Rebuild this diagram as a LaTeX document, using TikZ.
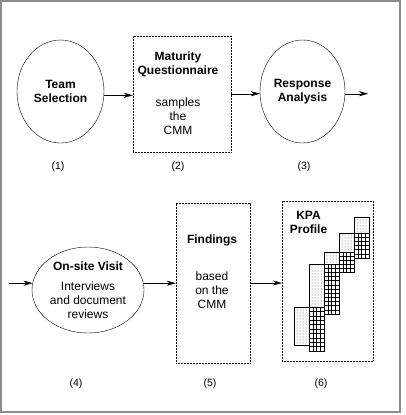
\documentclass[tikz,border=0pt]{standalone}
\usepackage{fontspec}
\setmainfont{Liberation Sans}
\usetikzlibrary{arrows.meta}
\usetikzlibrary{shapes.geometric}
\usetikzlibrary{patterns}

\begin{document}
\begin{tikzpicture}[x=1pt,y=-1pt,font=\fontsize{12}{14}\selectfont,
  stage/.style={ellipse,draw,thin,align=center,inner sep=0pt},
  sheet/.style={draw,dash pattern=on 0.6pt off 0.9pt,thin,inner sep=0pt},
  flow/.style={-{Stealth[length=9pt,width=5pt]},thin},
  tag/.style={font=\fontsize{10.5}{12}\selectfont}]
\useasboundingbox (0,0) rectangle (405,415);
\draw[black!45,line width=2pt] (1,1) rectangle (400,412);
\node[stage,minimum width=87,minimum height=103] (team) at (60.5,91.5) {\textbf{Team}\\\textbf{Selection}};
\node[sheet,minimum width=98,minimum height=116] (quest) at (182,94) {};
\node[align=center] (questtxt) at (178,93) {\textbf{Maturity}\\\textbf{Questionnaire}\\[18pt]samples\\the\\CMM};
\node[stage,minimum width=85,minimum height=103] (resp) at (302.5,91.5) {\textbf{Response}\\\textbf{Analysis}};
\node[stage,minimum width=112,minimum height=86] (visit) at (88,290) {\textbf{On-site Visit}\\[6pt]Interviews\\and document\\reviews};
\node[sheet,minimum width=74,minimum height=160] (find) at (213,283) {};
\node[align=center] (findtxt) at (212,272) {\textbf{Findings}\\[23pt]based\\on the\\CMM};
\node[sheet,minimum width=91,minimum height=160] (kpa) at (327.5,281) {};
\node[align=center] (kpatxt) at (308.5,222) {\textbf{KPA}\\\textbf{Profile}};
\coordinate (next) at (368,94);
\coordinate (prev) at (9,283);
\draw[flow] (team.355) -- (team.355 -| quest.west);
\draw[flow] (quest.east |- resp.183) -- (resp.183);
\draw[flow] (resp.357) -- (resp.357 -| next);
\draw[flow] (prev |- visit.173) -- (visit.173);
\draw[flow] (visit.7) -- (visit.7 -| find.west);
\draw[flow] (find.east) -- (find.east -| kpa.west);
\foreach \x/\t/\d/\g/\n in {294/307/345/351/10,309/264/307/314/12,324/252/264/272/5,339/233/252/258/6}{
  \draw[semithick,pattern=dots,pattern color=black!70] (\x,\t) rectangle (\x+15,\d);
  \draw[semithick] (\x+15,\t) rectangle (\x+30,\g);
  \foreach \c in {1,2,3} \draw (\x+15+\c*3.75,\t) -- (\x+15+\c*3.75,\g);
  \foreach \r in {1,...,\n}{\pgfmathsetmacro\yy{\t+\r*(\g-\t)/\n} \draw (\x+15,\yy) -- (\x+30,\yy);}
}
\draw[semithick,pattern=dots,pattern color=black!70] (354,217) rectangle (369,233);
\node[tag] (n1) at (58,167) {(1)};
\node[tag] (n2) at (178,167) {(2)};
\node[tag] (n3) at (304,167) {(3)};
\node[tag] (n4) at (76,384) {(4)};
\node[tag] (n5) at (210,384) {(5)};
\node[tag] (n6) at (321,384) {(6)};
\end{tikzpicture}
\end{document}
